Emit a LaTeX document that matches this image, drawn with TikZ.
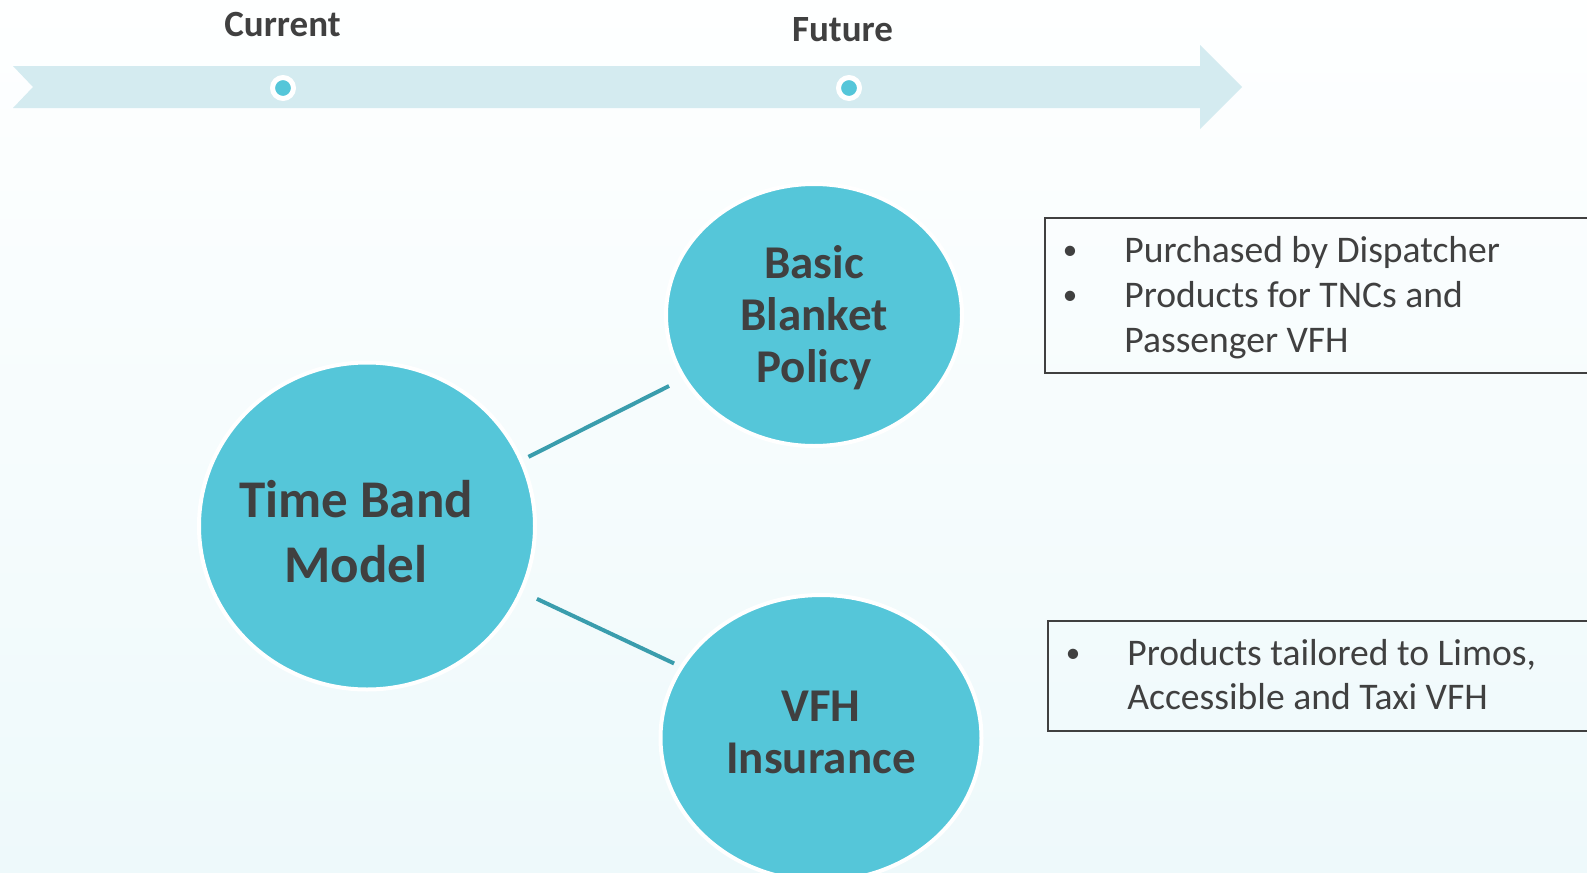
\documentclass[tikz,border=0pt]{standalone}
\usepackage{fontspec}
\setmainfont{Carlito}
\usepackage{tikz}
\usetikzlibrary{shapes.geometric}

\definecolor{bandblue}{HTML}{D4EBF0}
\definecolor{bubbleblue}{HTML}{55C6D9}
\definecolor{linkteal}{HTML}{3A9DAD}
\definecolor{inkgrey}{HTML}{404040}
\definecolor{bgtop}{HTML}{FEFFFF}
\definecolor{bgbot}{HTML}{EEF9FB}

\tikzset{
  bubble/.style={ellipse, fill=bubbleblue, draw=white, line width=2pt, inner sep=0pt, outer sep=0pt},
  bubbletext/.style={text=inkgrey, font=\bfseries\fontsize{23.5}{26}\selectfont, align=center, inner sep=0pt},
  tickdot/.style={circle, fill=bubbleblue, draw=white, line width=2.5pt, minimum size=10.5pt, inner sep=0pt},
  ticklabel/.style={text=inkgrey, font=\bfseries\fontsize{18.5}{22}\selectfont, anchor=base, inner sep=0pt},
  link/.style={draw=linkteal, line width=2pt},
  notebox/.style={draw=inkgrey, line width=0.75pt, anchor=north west, inner sep=0pt},
  notetext/.style={text=inkgrey, font=\fontsize{18.8}{22.5}\selectfont, anchor=base west, inner sep=0pt},
  notebullet/.style={text=inkgrey, font=\fontsize{14.5}{17}\selectfont, anchor=base, inner sep=0pt, yshift=1.5pt},
}

\begin{document}
\begin{tikzpicture}[x=0.5pt,y=-0.5pt]
\useasboundingbox (0,0) rectangle (1587,873);
\clip (0,0) rectangle (1587,873);
\shade[top color=bgtop, bottom color=bgbot] (0,0) rectangle (1587,873);

% timeline
\fill[bandblue] (13,66) -- (1200,66) -- (1200,45) -- (1242,87) -- (1200,129)
  -- (1200,108) -- (13,108) -- (33,87) -- cycle;
\node[tickdot] (curdot) at (283,88) {};
\node[tickdot] (futdot) at (849,88) {};
\node[ticklabel] (curlabel) at (282.5,36.5) {Current};
\node[ticklabel] (futlabel) at (842.5,41) {Future};

% bubbles
\node[bubble, minimum width=168pt, minimum height=163.5pt,
  label={[bubbletext, font=\bfseries\fontsize{26.5}{32.5}\selectfont, xshift=-5.5pt, yshift=-3pt]center:Time Band\\Model}]
  (tbm) at (367,526) {};
\node[bubble, minimum width=148pt, minimum height=131pt,
  label={[bubbletext, yshift=-1.5pt]center:Basic\\Blanket\\Policy}]
  (bbp) at (814,315) {};
\node[bubble, minimum width=160.5pt, minimum height=143pt,
  label={[bubbletext, yshift=3pt]center:VFH\\Insurance}]
  (vfh) at (821,738) {};

\draw[link, shorten <=4.2pt, shorten >=8.6pt] (tbm.23.5) -- (bbp.206);
\draw[link, shorten <=8.8pt, shorten >=4.2pt] (tbm.-23) -- (vfh.153);

% notes
\node[notebox, minimum width=300pt, minimum height=77.5pt] (dispbox) at (1044,217) {};
\node[notebullet] (dispb1) at (1070,262) {\textbullet};
\node[notetext] (displ1) at (1124,262) {Purchased by Dispatcher};
\node[notebullet] (dispb2) at (1070,307.5) {\textbullet};
\node[notetext] (displ2) at (1124,307.5) {Products for TNCs and};
\node[notetext] (displ3) at (1124,352) {Passenger VFH};

\node[notebox, minimum width=300pt, minimum height=55pt] (taxibox) at (1047,620) {};
\node[notebullet] (taxib1) at (1073,665) {\textbullet};
\node[notetext] (taxil1) at (1127,665) {Products tailored to Limos,};
\node[notetext] (taxil2) at (1127,709.5) {Accessible and Taxi VFH};
\end{tikzpicture}
\end{document}
